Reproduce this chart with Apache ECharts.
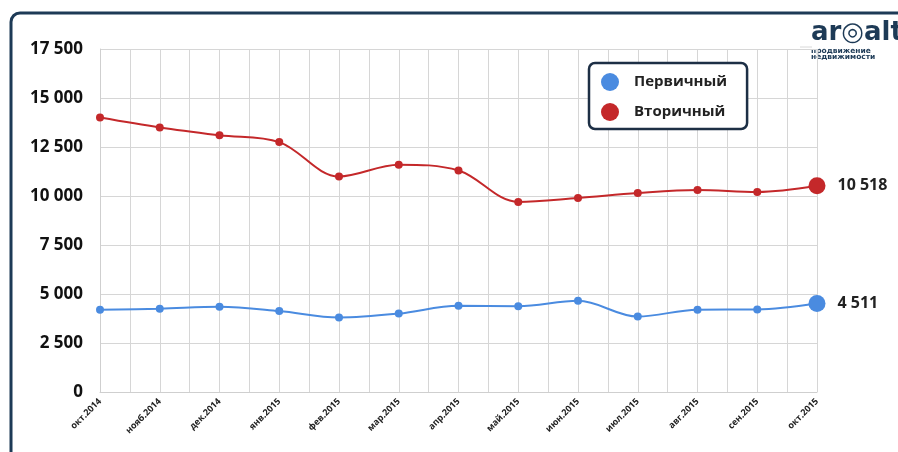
<!DOCTYPE html>
<html>
<head>
<meta charset="utf-8">
<script src="https://cdn.jsdelivr.net/npm/echarts@6/dist/echarts.min.js"></script>
<style>
  html, body { margin: 0; padding: 0; background: #ffffff; }
  #chart { width: 898px; height: 452px; }
</style>
</head>
<body>
<div id="chart"></div>
<script>
// Months on the x axis
const months = ['окт.2014', 'нояб.2014', 'дек.2014', 'янв.2015', 'фев.2015', 'мар.2015',
  'апр.2015', 'май.2015', 'июн.2015', 'июл.2015', 'авг.2015', 'сен.2015', 'окт.2015'];

// Primary market (Первичный)
const primary = [4200, 4250, 4350, 4130, 3800, 4000, 4400, 4380, 4650, 3850, 4200, 4210, 4511];

// Secondary market (Вторичный)
const secondary = [14000, 13500, 13100, 12750, 11000, 11600, 11300, 9700, 9900, 10150, 10300, 10200, 10518];

// Y axis ticks
const yTicks = [0, 2500, 5000, 7500, 10000, 12500, 15000, 17500];

const fmt = v => String(Math.round(v)).replace(/\B(?=(\d{3})+(?!\d))/g, ' ');
const FONT = '"Open Sans", "DejaVu Sans", sans-serif';

function buildData(values) {
  return values.map((v, i) => {
    if (i !== values.length - 1) return v;
    return {
      value: v,
      symbolSize: 17,
      label: {
        show: true,
        position: 'right',
        distance: 12,
        formatter: p => fmt(p.value),
        fontFamily: FONT,
        fontWeight: 'bold',
        fontSize: 16,
        color: '#222222'
      }
    };
  });
}

const chart = echarts.init(document.getElementById('chart'), null, { renderer: 'canvas' });

chart.setOption({
  backgroundColor: '#ffffff',
  animation: false,
  graphic: [
    {
      type: 'rect',
      z: -10,
      shape: { x: 11, y: 13, width: 1000, height: 600, r: 9 },
      style: { fill: '#ffffff', stroke: '#1d3a56', lineWidth: 3 }
    },
    {
      type: 'line',
      shape: { x1: 800, y1: 47, x2: 812, y2: 47 },
      style: { stroke: '#d8d8d8', lineWidth: 1 }
    },
    {
      type: 'text',
      left: 811, top: 20,
      style: { text: 'ar◎alt', fontFamily: '"DejaVu Sans", sans-serif', fontWeight: 'bold', fontSize: 26, fill: '#1d3a56' }
    },
    {
      type: 'text',
      left: 811, top: 47,
      style: { text: 'продвижение\nнедвижимости', fontFamily: '"DejaVu Sans", sans-serif', fontWeight: 'bold', fontSize: 7.5, lineHeight: 6.5, fill: '#1d3a56' }
    }
  ],
  grid: { left: 100, right: 81, top: 49, bottom: 60, containLabel: false },
  legend: {
    orient: 'vertical',
    left: 589,
    top: 63,
    backgroundColor: '#ffffff',
    borderColor: '#1d2f45',
    borderWidth: 2.5,
    borderRadius: 6,
    padding: [10, 20, 8, 12],
    itemGap: 12,
    itemWidth: 18,
    itemHeight: 18,
    icon: 'circle',
    textStyle: { fontFamily: FONT, fontWeight: 'bold', fontSize: 15, color: '#222222', padding: [0, 0, 0, 10] },
    data: ['Первичный', 'Вторичный']
  },
  xAxis: [
    {
      type: 'category',
      data: months,
      boundaryGap: false,
      axisLine: { show: true, lineStyle: { color: '#cfcfcf', width: 1 } },
      axisTick: { show: false },
      splitLine: { show: false },
      axisLabel: {
        rotate: 45,
        interval: 0,
        margin: 8,
        fontFamily: FONT,
        fontWeight: 'bold',
        fontSize: 9,
        color: '#222222'
      }
    },
    {
      // finer vertical grid: a line at every half month
      type: 'value',
      position: 'bottom',
      min: 0,
      max: months.length - 1,
      interval: 0.5,
      axisLine: { show: false },
      axisTick: { show: false },
      axisLabel: { show: false },
      splitLine: { show: true, lineStyle: { color: '#d6d6d6', width: 1 } }
    }
  ],
  yAxis: {
    type: 'value',
    min: yTicks[0],
    max: yTicks[yTicks.length - 1],
    interval: yTicks[1] - yTicks[0],
    axisLine: { show: true, lineStyle: { color: '#cfcfcf' } },
    axisTick: { show: false },
    splitLine: { show: true, lineStyle: { color: '#d6d6d6', width: 1 } },
    axisLabel: {
      margin: 17,
      fontFamily: FONT,
      fontWeight: 'bold',
      fontSize: 17,
      color: '#111111',
      formatter: v => fmt(v)
    }
  },
  series: [
    {
      name: 'Первичный',
      type: 'line',
      xAxisIndex: 0,
      smooth: 0.35,
      symbol: 'circle',
      symbolSize: 8,
      data: buildData(primary),
      itemStyle: { color: '#4a8be0' },
      lineStyle: { color: '#4a8be0', width: 2 },
      z: 3
    },
    {
      name: 'Вторичный',
      type: 'line',
      xAxisIndex: 0,
      smooth: 0.35,
      symbol: 'circle',
      symbolSize: 8,
      data: buildData(secondary),
      itemStyle: { color: '#c4282a' },
      lineStyle: { color: '#c4282a', width: 2 },
      z: 3
    }
  ]
});
</script>
</body>
</html>
